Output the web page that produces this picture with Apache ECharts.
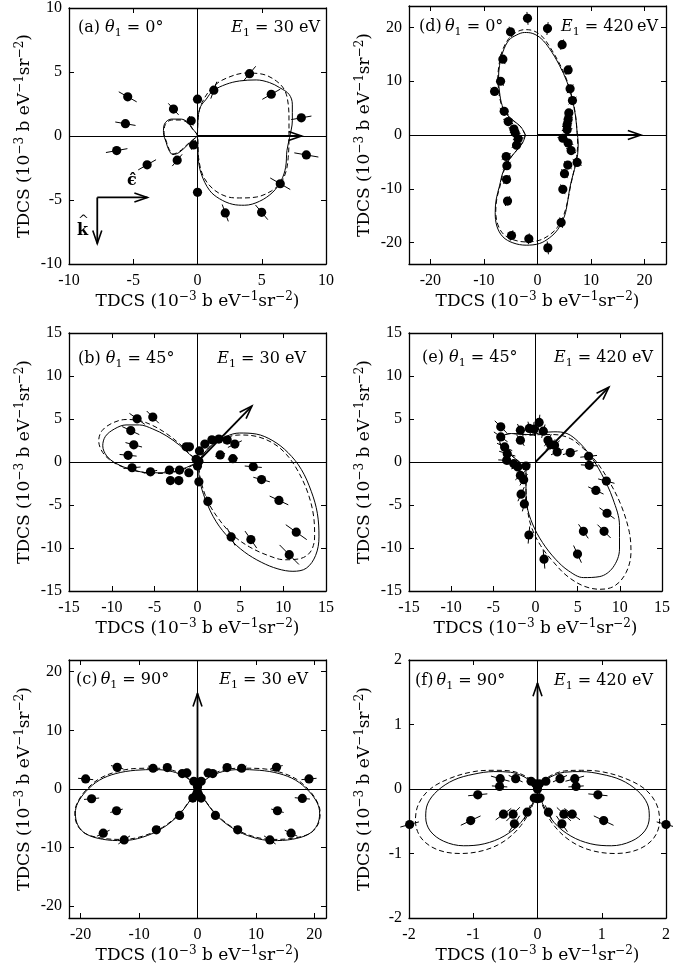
<!DOCTYPE html>
<html><head><meta charset="utf-8">
<script src="https://cdn.jsdelivr.net/npm/echarts@6/dist/echarts.min.js"></script>
<style>html,body{margin:0;padding:0;background:#fff}#c{width:673px;height:980px}</style>
</head><body><div id="c"></div>
<script>
// ---------- tick labels ----------
const ticksA = [-10, -5, 0, 5, 10];
const ticksD = [-20, -10, 0, 10, 20];
const ticksB = [-15, -10, -5, 0, 5, 10, 15];
const ticksE = [-15, -10, -5, 0, 5, 10, 15];
const ticksC = [-20, -10, 0, 10, 20];
const ticksF = [-2, -1, 0, 1, 2];

// ---------- experimental points [x, y, radial error] ----------
const ptsA = [[-5.43,3.06,0.8],[-5.61,0.96,0.8],[-6.29,-1.14,0.85],[-3.92,-2.25,0.8],[-1.87,2.10,0.6],[-0.49,1.19,0.4],[-0.31,-0.70,0.4],[-1.58,-1.89,0.6],[0,2.88,0.3],[0,-4.40,0.3],[1.27,3.58,0.7],[4.05,4.87,0.75],[5.74,3.26,0.8],[8.08,1.42,0.8],[8.47,-1.48,0.95],[6.44,-3.73,0.9],[4.99,-5.96,0.75],[2.16,-6.01,0.7]];
const ptsD = [[-1.87,21.7,1.2],[1.87,19.8,1.2],[-5.04,19.2,1.0],[4.60,16.8,1.0],[-6.47,14.1,1.0],[5.72,12.1,1.0],[-6.90,10.0,1.0],[-8.02,8.1,1.0],[6.09,8.6,1.0],[6.53,6.4,1.0],[-6.22,4.4,1.0],[5.85,4.1,1.0],[5.72,2.9,1.0],[-5.47,2.5,1.0],[-4.42,1.1,1.0],[5.53,1.9,1.0],[5.53,1.0,1.0],[-4.17,0.4,1.0],[4.73,-0.6,1.0],[-3.61,-0.7,1.0],[5.72,-1.5,1.0],[-3.92,-1.9,1.0],[6.28,-2.9,1.0],[-5.85,-4.0,1.0],[7.40,-5.1,1.0],[-5.72,-5.7,1.0],[5.66,-5.6,1.0],[-5.78,-8.3,1.0],[5.04,-7.2,1.0],[4.73,-10.1,1.0],[-5.60,-12.3,1.0],[4.42,-16.3,1.0],[-4.85,-18.7,1.0],[-1.62,-19.3,1.0],[1.93,-21.0,1.2]];
const ptsB = [[-7.05,5.02,1.1],[-5.22,5.22,1.0],[-7.79,3.65,1.1],[-7.44,2.0,1.0],[-8.10,0.78,1.0],[-7.64,-0.67,1.0],[-5.49,-1.14,0.8],[-3.27,-0.94,0.6],[-3.16,-2.16,0.5],[-2.18,-2.16,0.5],[-2.10,-0.94,0.5],[-1.32,1.76,0.5],[-0.94,1.76,0.4],[-1.01,-1.25,0.4],[-0.16,0.31,0.3],[0,-0.47,0.3],[0.16,0.08,0.3],[0.23,1.29,0.4],[0.86,2.08,0.5],[1.68,2.59,0.5],[2.49,2.67,0.6],[3.47,2.55,0.6],[4.36,2.08,0.9],[2.65,0.82,0.6],[4.13,0.39,0.6],[6.51,-0.55,1.0],[7.48,-2.04,1.0],[9.51,-4.47,1.2],[11.53,-8.16,1.5],[6.23,-9.02,1.2],[3.93,-8.71,1.1],[10.71,-10.78,1.6],[1.21,-4.59,0.6],[0.16,-2.31,0.4]];
const ptsE = [[-4.12,4.09,1.0],[-4.12,2.92,1.0],[-3.66,1.75,1.0],[-3.35,0.97,1.0],[-3.42,0.19,1.0],[-2.57,-0.19,0.8],[-2.10,-0.58,0.8],[-1.13,-0.47,0.6],[-1.79,-1.56,0.8],[-1.40,-2.06,0.8],[-1.71,-3.74,0.9],[-1.32,-4.87,0.9],[-0.78,-8.49,1.0],[1.01,-11.30,1.1],[-1.79,3.70,0.8],[-1.79,2.53,0.8],[-0.74,3.90,0.8],[-0.16,3.82,0.8],[0.43,4.60,0.9],[0.93,3.58,0.8],[1.48,2.53,0.8],[1.79,2.03,0.8],[2.26,1.95,0.8],[2.57,1.17,0.8],[4.12,1.09,0.9],[6.30,0.66,1.0],[6.38,-0.39,1.0],[8.40,-2.22,1.0],[7.16,-3.31,1.0],[8.48,-5.96,1.1],[5.68,-8.06,1.0],[8.13,-8.06,1.1],[4.98,-10.71,1.1]];
const ptsC = [[19.09,1.71,1.3],[17.95,-1.6,1.3],[13.69,-3.71,1.1],[13.52,3.71,1.1],[7.56,3.54,0.9],[5.06,3.66,0.8],[2.61,2.63,0.6],[1.82,2.74,0.6],[0.63,1.31,0.4],[0.63,-1.54,0.4],[3.07,-4.51,0.6],[6.88,-6.97,0.9],[12.39,-8.69,1.2],[16.02,-7.54,1.2],[-19.15,1.71,1.3],[-18.13,-1.66,1.3],[-13.86,-3.71,1.1],[-13.75,3.71,1.1],[-7.61,3.54,0.9],[-5.17,3.66,0.8],[-2.61,2.63,0.6],[-1.82,2.74,0.6],[-0.63,1.31,0.4],[-0.80,-1.54,0.4],[-3.07,-4.51,0.6],[-7.05,-6.97,0.9],[-12.56,-8.69,1.2],[-16.14,-7.54,1.2],[0,-0.5,0.3],[0,0.4,0.3],[0.2,-1.0,0.3],[-0.2,-1.0,0.3]];
const ptsF = [[2.0,-0.55,0.15],[1.03,-0.49,0.17],[0.94,-0.09,0.15],[0.58,0.16,0.15],[0.60,0.04,0.12],[0.35,0.16,0.12],[0.13,0.12,0.08],[0.03,0.08,0.05],[0.04,-0.14,0.05],[0.17,-0.36,0.12],[0.41,-0.39,0.15],[0.54,-0.39,0.15],[0.38,-0.54,0.15],[-1.99,-0.55,0.15],[-1.04,-0.49,0.17],[-0.93,-0.09,0.15],[-0.58,0.16,0.15],[-0.59,0.04,0.12],[-0.34,0.16,0.12],[-0.10,0.12,0.08],[-0.03,0.08,0.05],[-0.05,-0.14,0.05],[-0.16,-0.36,0.12],[-0.53,-0.39,0.15],[-0.38,-0.39,0.15],[-0.36,-0.54,0.15],[0,0,0],[0,-0.15,0.03],[0,0.05,0.03]];

// ---------- theory curves (solid / dashed) ----------
const solidA = [[0,0],[0.05,1.45],[0.23,2.28],[0.68,2.88],[1.19,3.52],[2.23,4.04],[3.27,4.30],[4.57,4.38],[5.61,4.17],[6.39,3.78],[7.12,3.26],[7.38,2.49],[7.38,1.19],[7.17,-0.10],[6.96,-1.14],[6.86,-2.44],[6.52,-3.47],[5.87,-4.38],[4.83,-5.10],[3.66,-5.41],[2.75,-5.34],[1.71,-4.90],[0.94,-4.25],[0.29,-2.95],[0.05,-1.66],[0,0],[-0.36,0.54],[-0.75,1.06],[-1.27,1.32],[-2.05,1.32],[-2.57,0.93],[-2.65,0.28],[-2.44,-0.49],[-2.23,-1.09],[-1.92,-1.45],[-1.40,-1.27],[-0.75,-0.67],[0,0]];
const dashA = [[0,0],[0.05,1.45],[0.36,2.62],[1.19,3.83],[2.23,4.51],[3.79,4.92],[5.09,4.82],[6.13,4.30],[6.78,3.58],[7.06,2.49],[7.12,1.19],[7.12,-0.36],[7.06,-1.66],[6.91,-2.69],[6.52,-3.60],[5.74,-4.30],[4.57,-4.77],[3.27,-4.84],[2.23,-4.72],[1.19,-4.12],[0.42,-3.08],[0.08,-1.66],[0,0],[-0.36,0.5],[-0.75,1.0],[-1.27,1.25],[-2.0,1.25],[-2.5,0.9],[-2.6,0.25],[-2.4,-0.5],[-2.2,-1.05],[-1.9,-1.4],[-1.4,-1.2],[-0.75,-0.62],[0,0]];
const solidD = [[-2.24,0],[-3.05,1.43],[-4.10,2.37],[-5.53,3.61],[-6.59,5.48],[-7.09,7.98],[-7.28,10.47],[-7.09,12.96],[-6.47,15.45],[-5.35,17.63],[-3.98,18.57],[-2.43,19.07],[-0.87,18.88],[0.68,17.94],[2.24,16.07],[4.10,12.96],[5.53,9.84],[6.47,6.73],[7.09,3.61],[7.4,0.5],[7.6,-1.5],[7.5,-3.6],[7.2,-5.3],[6.6,-7.5],[6.0,-10.0],[5.6,-12.6],[5.04,-15.08],[3.79,-17.57],[2.24,-19.13],[0.37,-20.19],[-2.11,-20.50],[-4.60,-20.06],[-6.47,-18.94],[-7.59,-16.95],[-7.90,-14.45],[-7.71,-11.96],[-7.09,-9.47],[-6.47,-6.98],[-5.22,-4.49],[-3.67,-2.62],[-2.74,-1.37],[-2.24,0]];
const dashD = [[-2.3,0],[-3.1,1.5],[-4.2,2.4],[-5.6,3.7],[-6.7,5.5],[-7.2,8.0],[-7.4,10.5],[-7.2,13.0],[-6.6,15.6],[-5.4,17.9],[-4.0,19.1],[-2.4,19.6],[-0.8,19.4],[0.8,18.4],[2.3,16.4],[4.2,13.1],[5.6,9.9],[6.5,6.8],[7.1,3.7],[7.4,0.5],[7.5,-1.8],[7.3,-4.0],[6.9,-6.2],[6.2,-9.4],[5.6,-12.4],[4.9,-14.9],[3.7,-17.2],[2.1,-18.7],[0.3,-19.6],[-2.1,-19.9],[-4.5,-19.5],[-6.3,-18.5],[-7.4,-16.7],[-7.8,-14.3],[-7.6,-11.9],[-7.0,-9.5],[-6.4,-7.0],[-5.2,-4.5],[-3.7,-2.6],[-2.8,-1.4],[-2.3,0]];
const solidB = [[0,0],[0.82,1.10],[1.79,2.08],[3.35,2.98],[4.91,3.37],[6.86,3.25],[8.80,2.47],[10.56,1.10],[12.12,-0.86],[13.28,-3.41],[13.99,-5.96],[14.18,-8.71],[13.79,-10.86],[12.70,-12.35],[11.14,-12.71],[9.39,-12.43],[7.44,-11.65],[5.49,-10.47],[3.74,-8.90],[2.18,-6.94],[0.93,-4.39],[0.23,-2.04],[0,0],[-0.94,0.90],[-2.10,1.96],[-3.66,3.06],[-5.22,3.84],[-6.78,4.31],[-8.34,4.31],[-9.70,3.84],[-10.75,2.98],[-11.06,1.88],[-10.60,0.71],[-9.51,-0.16],[-7.75,-0.86],[-5.61,-1.25],[-3.66,-1.25],[-1.91,-0.86],[-0.74,-0.39],[0,0]];
const dashB = [[0,0],[0.82,1.10],[1.79,2.08],[3.35,2.86],[4.91,3.14],[6.86,2.98],[8.80,2.20],[10.36,0.90],[11.73,-1.06],[12.89,-3.61],[13.56,-6.35],[13.67,-8.71],[13.17,-10.47],[11.92,-11.25],[10.17,-11.37],[8.22,-10.86],[6.08,-9.88],[4.13,-8.51],[2.57,-6.75],[1.21,-4.59],[0.35,-2.04],[0,0],[-0.94,0.98],[-2.10,2.12],[-3.66,3.33],[-5.22,4.24],[-6.78,4.82],[-8.34,4.94],[-9.89,4.55],[-11.14,3.65],[-11.53,2.47],[-11.06,1.10],[-9.89,0],[-8.14,-0.78],[-6.00,-1.25],[-3.86,-1.33],[-1.91,-0.94],[-0.74,-0.47],[0,0]];
const solidE = [[-1.13,-0.78],[-1.91,0],[-2.88,0.78],[-3.85,1.56],[-4.24,2.42],[-3.85,3.04],[-2.88,3.31],[-1.71,3.23],[-0.54,3.19],[0.62,3.39],[2.18,3.51],[3.74,3.31],[5.10,2.34],[6.46,0.78],[7.82,-1.36],[9.18,-4.29],[9.96,-7.40],[9.96,-10.13],[9.18,-12.27],[7.63,-13.32],[5.68,-13.44],[3.93,-12.66],[2.37,-11.30],[0.82,-9.35],[-0.35,-7.21],[-1.01,-5.06],[-1.13,-2.73],[-1.13,-0.78]];
const dashE = [[-1.13,-0.78],[-1.91,0],[-2.88,0.78],[-3.85,1.56],[-4.24,2.42],[-3.85,3.04],[-2.88,3.31],[-1.71,3.23],[-0.54,3.12],[0.62,3.19],[2.18,3.19],[4.12,2.73],[5.68,1.56],[7.24,0],[8.79,-2.34],[10.16,-5.06],[11.13,-8.18],[11.32,-10.52],[10.74,-12.86],[9.38,-14.41],[7.63,-14.80],[5.68,-14.41],[3.74,-13.25],[2.18,-11.69],[0.62,-9.74],[-0.54,-7.40],[-1.01,-5.06],[-1.13,-2.73],[-1.13,-0.78]];
const solidC = [[0,0],[0.8,1.03],[2.05,2.06],[4.32,2.97],[7.16,3.31],[10.57,3.2],[13.98,2.63],[16.82,1.49],[19.09,-0.4],[20.51,-2.4],[20.91,-4.11],[20.51,-6.11],[19.09,-7.66],[16.25,-8.57],[12.84,-8.8],[9.43,-8.23],[6.02,-6.69],[3.18,-4.4],[1.19,-1.83],[0,0],[-0.8,1.03],[-2.05,2.06],[-4.32,2.97],[-7.16,3.31],[-10.57,3.2],[-13.98,2.63],[-16.82,1.49],[-19.09,-0.4],[-20.51,-2.4],[-20.91,-4.11],[-20.51,-6.11],[-19.09,-7.66],[-16.25,-8.57],[-12.84,-8.8],[-9.43,-8.23],[-6.02,-6.69],[-3.18,-4.4],[-1.19,-1.83],[0,0]];
const dashC = [[0,0],[0.8,1.1],[2.05,2.2],[4.3,3.2],[7.2,3.55],[10.6,3.5],[14.0,2.9],[16.9,1.7],[19.2,-0.3],[20.6,-2.4],[21.0,-4.1],[20.6,-6.1],[19.2,-7.6],[16.3,-8.4],[12.8,-8.6],[9.4,-8.05],[6.0,-6.55],[3.2,-4.3],[1.2,-1.8],[0,0],[-0.8,1.1],[-2.05,2.2],[-4.3,3.2],[-7.2,3.55],[-10.6,3.5],[-14.0,2.9],[-16.9,1.7],[-19.2,-0.3],[-20.6,-2.4],[-21.0,-4.1],[-20.6,-6.1],[-19.2,-7.6],[-16.3,-8.4],[-12.8,-8.6],[-9.4,-8.05],[-6.0,-6.55],[-3.2,-4.3],[-1.2,-1.8],[0,0]];
const solidF = [[0,0],[0.08,0.10],[0.21,0.19],[0.42,0.26],[0.68,0.27],[0.99,0.23],[1.30,0.14],[1.56,-0.03],[1.71,-0.23],[1.74,-0.44],[1.67,-0.65],[1.46,-0.81],[1.15,-0.88],[0.83,-0.85],[0.52,-0.73],[0.26,-0.52],[0.08,-0.23],[0,0],[-0.08,0.10],[-0.21,0.19],[-0.42,0.26],[-0.68,0.27],[-0.99,0.23],[-1.30,0.14],[-1.56,-0.03],[-1.71,-0.23],[-1.74,-0.44],[-1.67,-0.65],[-1.46,-0.81],[-1.15,-0.88],[-0.83,-0.85],[-0.52,-0.73],[-0.26,-0.52],[-0.08,-0.23],[0,0]];
const dashF = [[0,0],[0.08,0.11],[0.21,0.21],[0.42,0.28],[0.68,0.29],[0.99,0.27],[1.35,0.17],[1.67,0],[1.85,-0.23],[1.90,-0.49],[1.81,-0.76],[1.56,-0.94],[1.20,-1.00],[0.83,-0.95],[0.52,-0.81],[0.26,-0.57],[0.08,-0.26],[0,0],[-0.08,0.11],[-0.21,0.21],[-0.42,0.28],[-0.68,0.29],[-0.99,0.27],[-1.35,0.17],[-1.67,0],[-1.85,-0.23],[-1.90,-0.49],[-1.81,-0.76],[-1.56,-0.94],[-1.20,-1.00],[-0.83,-0.95],[-0.52,-0.81],[-0.26,-0.57],[-0.08,-0.26],[0,0]];

// ---------- arrows [x0, y0, x1, y1] ----------
const arrowsA = [[0,0,8.1,0],[-7.8,-4.8,-3.9,-4.8],[-7.8,-4.8,-7.8,-8.4]];
const arrowsD = [[0,0,19.3,0]];
const arrowsB = [[0,0,6.35,6.5]];
const arrowsE = [[0,0,8.7,8.7]];
const arrowsC = [[0,0,0,16.3]];
const arrowsF = [[0,0,0,1.64]];

// ---------- panel texts ----------
const labelsLeft = ['(a) ', '(d)\u2009', '(b) ', '(e) ', '(c)\u2009', '(f)\u2009'];
const labelsAngle = ['0°', '0°', '45°', '45°', '90°', '90°'];
const labelsEnergy = ['30 eV', '420\u2009eV', '30 eV', '420 eV', '30 eV', '420 eV'];

const FONT = 'DejaVu Serif';
const TICKFONT = 'Liberation Serif';
const W = 257, H = 258;
const layout = [
  {left:69, top:6, r:10, ticks:ticksA, pts:ptsA, solid:solidA, dash:dashA, arrows:arrowsA, tl:[78,20], tr:353},
  {left:409, top:6, r:24, ticks:ticksD, pts:ptsD, solid:solidD, dash:dashD, arrows:arrowsD, tl:[419,19], tr:15},
  {left:69, top:333, r:15, ticks:ticksB, pts:ptsB, solid:solidB, dash:dashB, arrows:arrowsB, tl:[78,351], tr:367},
  {left:409, top:333, r:15, ticks:ticksE, pts:ptsE, solid:solidE, dash:dashE, arrows:arrowsE, tl:[422,350], tr:20},
  {left:69, top:660, r:22, ticks:ticksC, pts:ptsC, solid:solidC, dash:dashC, arrows:arrowsC, tl:[76,672], tr:365},
  {left:409, top:660, r:2, ticks:ticksF, pts:ptsF, solid:solidF, dash:dashF, arrows:arrowsF, tl:[415,673], tr:20}
];

const nameRich = {
  m: {fontFamily: FONT, fontSize: 17, lineHeight: 22, color: '#000'},
  s: {fontFamily: FONT, fontSize: 12, lineHeight: 13, verticalAlign: 'top', color: '#000'}
};
const axisName = '{m|TDCS (10}{s|\u22123}{m| b eV}{s|\u22121}{m|sr}{s|\u22122}{m|)}';
const annRich = {
  n: {fontFamily: FONT, fontSize: 16, lineHeight: 22, color: '#000'},
  i: {fontFamily: FONT, fontSize: 16, lineHeight: 22, fontStyle: 'italic', color: '#000'},
  b: {fontFamily: FONT, fontSize: 11, lineHeight: 10, verticalAlign: 'bottom', color: '#000'}
};

function renderPts(params, api) {
  const x = api.value(0), y = api.value(1), e = api.value(2);
  const c = api.coord([x, y]);
  const children = [];
  const r = Math.hypot(x, y);
  if (r > 0 && e > 0) {
    const ux = x / r, uy = y / r;
    const a = api.coord([x - ux * e, y - uy * e]);
    const b = api.coord([x + ux * e, y + uy * e]);
    children.push({type: 'line', shape: {x1: a[0], y1: a[1], x2: b[0], y2: b[1]}, style: {stroke: '#000', lineWidth: 1}});
  }
  children.push({type: 'circle', shape: {cx: c[0], cy: c[1], r: 4.6}, style: {fill: '#000'}});
  return {type: 'group', children};
}
function renderArrow(params, api) {
  const p0 = api.coord([api.value(0), api.value(1)]);
  const p1 = api.coord([api.value(2), api.value(3)]);
  const ang = Math.atan2(p1[1] - p0[1], p1[0] - p0[0]);
  const L = 13, hw = 4.5;
  const bx = p1[0] - L * Math.cos(ang), by = p1[1] - L * Math.sin(ang);
  const nx = -Math.sin(ang), ny = Math.cos(ang);
  return {type: 'group', children: [
    {type: 'line', shape: {x1: p0[0], y1: p0[1], x2: p1[0], y2: p1[1]}, style: {stroke: '#000', lineWidth: 1.8}},
    {type: 'polyline', shape: {points: [[bx + nx * hw, by + ny * hw], [p1[0], p1[1]], [bx - nx * hw, by - ny * hw]]}, style: {stroke: '#000', fill: null, lineWidth: 1.6}}
  ]};
}

const grids = [], xAxes = [], yAxes = [], series = [], graphics = [];
layout.forEach((p, i) => {
  grids.push({left: p.left, top: p.top, width: W, height: H});
  const base = () => ({
    type: 'value', gridIndex: i, min: -p.r, max: p.r,
    splitLine: {show: false},
    axisLine: {onZero: false, lineStyle: {color: '#000', width: 1.3}},
    axisTick: {inside: true, length: 5, customValues: p.ticks, lineStyle: {color: '#000', width: 1}},
    axisLabel: {show: false}
  });
  const lab = {show: true, customValues: p.ticks, fontFamily: TICKFONT, fontSize: 16, color: '#000'};
  xAxes.push(Object.assign(base(), {position: 'bottom', name: axisName, nameLocation: 'middle', nameGap: 27,
    nameTextStyle: {rich: nameRich}, axisLabel: Object.assign({}, lab, {margin: 9})}));
  xAxes.push(Object.assign(base(), {position: 'top'}));
  yAxes.push(Object.assign(base(), {position: 'left', name: axisName, nameLocation: 'middle', nameGap: 33,
    nameTextStyle: {rich: nameRich}, axisLabel: Object.assign({}, lab, {margin: 7})}));
  yAxes.push(Object.assign(base(), {position: 'right'}));
  const xi = 2 * i, yi = 2 * i;
  series.push({type: 'line', xAxisIndex: xi, yAxisIndex: yi, data: p.solid, showSymbol: false, smooth: 0.35,
    lineStyle: {color: '#000', width: 1}, silent: true,
    markLine: {silent: true, symbol: 'none', label: {show: false}, lineStyle: {color: '#000', width: 1, type: 'solid'},
      data: [{xAxis: 0}, {yAxis: 0}]}});
  series.push({type: 'line', xAxisIndex: xi, yAxisIndex: yi, data: p.dash, showSymbol: false, smooth: 0.35,
    lineStyle: {color: '#000', width: 1, type: [5, 3]}, silent: true});
  series.push({type: 'custom', xAxisIndex: xi, yAxisIndex: yi, data: p.arrows, renderItem: renderArrow,
    dimensions: ['x0', 'y0', 'x1', 'y1'], encode: {x: [0, 2], y: [1, 3]}, silent: true});
  series.push({type: 'custom', xAxisIndex: xi, yAxisIndex: yi, data: p.pts, renderItem: renderPts,
    dimensions: ['x', 'y', 'err'], encode: {x: 0, y: 1}, silent: true});
  graphics.push({type: 'text', left: p.tl[0], top: p.tl[1], z: 100, style: {
    text: '{n|' + labelsLeft[i] + '}{i|θ}{b|1}{n| = ' + labelsAngle[i] + '}', rich: annRich}});
  graphics.push({type: 'text', right: p.tr, top: p.tl[1], z: 100, style: {
    text: '{i|E}{b|1}{n| = ' + labelsEnergy[i] + '}', rich: annRich}});
});
graphics.push({type: 'text', left: 127, top: 173, z: 100, style: {text: 'ϵ̂', fontFamily: FONT, fontSize: 16, fontWeight: 'bold', fill: '#000'}});
graphics.push({type: 'text', left: 77, top: 223, z: 100, style: {text: 'k', fontFamily: FONT, fontSize: 16, fontWeight: 'bold', fill: '#000'}});
graphics.push({type: 'text', left: 78, top: 214, z: 100, style: {text: '^', fontFamily: FONT, fontSize: 13, fill: '#000'}});

const chart = echarts.init(document.getElementById('c'), null, {renderer: 'canvas'});
chart.setOption({
  animation: false,
  backgroundColor: '#fff',
  grid: grids, xAxis: xAxes, yAxis: yAxes, series: series, graphic: graphics
});
</script></body></html>
